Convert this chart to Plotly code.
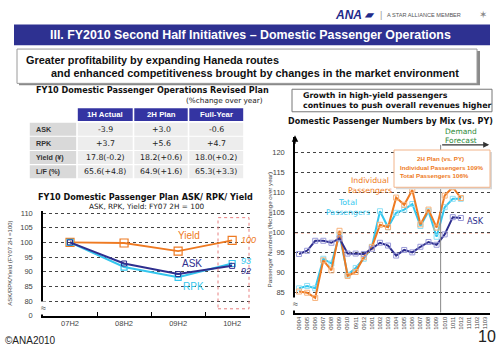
import plotly.graph_objects as go

W, H = 500, 353
def px(x): return x / W
def py(y): return 1 - y / H

SANS = "Liberation Sans, Arial, sans-serif"
VERD = "DejaVu Sans, Verdana, sans-serif"

# ---------------- data ----------------
table_rows = ["ASK", "RPK", "Yield (¥)", "L/F (%)"]
table_cols = ["1H Actual", "2H Plan", "Full-Year"]
col_1h = ["-3.9", "+3.7", "17.8(-0.2)", "65.6(+4.8)"]
col_2h = ["+3.0", "+5.6", "18.2(+0.6)", "64.9(+1.6)"]
col_fy = ["-0.6", "+4.7", "18.0(+0.2)", "65.3(+3.3)"]

halves = ["07H2", "08H2", "09H2", "10H2"]
yield_idx = [100.0, 99.8, 97.0, 100.7]
ask_idx = [100.0, 92.8, 89.2, 92.0]
rpk_idx = [100.0, 91.6, 88.1, 92.8]
left_ticks = [75, 80, 85, 90, 95, 100, 105, 110]
left_ticktext = ["0", "80", "85", "90", "95", "100", "105", "110"]

months = ["0904", "0905", "0906", "0907", "0908", "0909", "0910", "0911", "0912",
          "1001", "1002", "1003", "1004", "1005", "1006", "1007", "1008", "1009",
          "1010", "1011", "1012", "1101", "1102", "1103"]
individual = [85.3, 85.0, 83.7, 93.1, 90.6, 100.5, 89.2, 90.2, 93.9, 96.4, 102.0,
              101.4, 108.8, 107.0, 110.7, 102.1, 105.8, 101.3, 109.3, 111.4, 108.7]
total = [86.1, 86.7, 86.1, 93.5, 92.3, 99.5, 89.5, 91.2, 93.5, 96.5, 105.4,
         101.4, 105.0, 105.8, 107.2, 101.7, 105.4, 99.0, 106.4, 108.5, 108.5]
ask_mix = [94.7, 95.5, 98.0, 98.0, 97.5, 98.6, 94.8, 94.8, 94.7, 96.0, 97.5,
           96.8, 94.3, 95.7, 95.1, 96.5, 97.7, 97.0, 99.6, 103.9, 103.7]
right_ticks = [80, 85, 90, 95, 100, 105, 110, 115, 120]
right_ticktext = ["0", "85", "90", "95", "100", "105", "110", "115", "120"]

ORANGE = "#EE7A22"
NAVY = "#2E2E8E"
CYAN = "#33C6EE"
BLUEBAR = "#2E3191"
TBLUE = "#3434A2"

fig = go.Figure()

# ---------------- left chart ----------------
fig.add_trace(go.Scatter(x=halves, y=yield_idx, mode="lines+markers", xaxis="x", yaxis="y",
                         line=dict(color=ORANGE, width=1.8),
                         marker=dict(symbol="square-open", size=8, color=ORANGE, line=dict(width=1.2))))
fig.add_trace(go.Scatter(x=halves, y=rpk_idx, mode="lines+markers", xaxis="x", yaxis="y",
                         line=dict(color=CYAN, width=2),
                         marker=dict(symbol="square-open", size=6, color=CYAN, line=dict(width=1.2))))
fig.add_trace(go.Scatter(x=halves, y=ask_idx, mode="lines+markers", xaxis="x", yaxis="y",
                         line=dict(color=NAVY, width=2),
                         marker=dict(symbol="square-open", size=5, color=NAVY, line=dict(width=1))))

# ---------------- right chart ----------------
xi = list(range(len(individual)))
fig.add_trace(go.Scatter(x=xi, y=total, mode="lines+markers", xaxis="x2", yaxis="y2",
                         line=dict(color=CYAN, width=2),
                         marker=dict(symbol="square-open", size=5, color="#8FE0F5", line=dict(width=1))))
fig.add_trace(go.Scatter(x=xi, y=individual, mode="lines+markers", xaxis="x2", yaxis="y2",
                         line=dict(color=ORANGE, width=2),
                         marker=dict(symbol="square-open", size=5, color="#F7B27A", line=dict(width=1))))
fig.add_trace(go.Scatter(x=xi, y=ask_mix, mode="lines+markers", xaxis="x2", yaxis="y2",
                         line=dict(color=NAVY, width=2),
                         marker=dict(symbol="square-open", size=5, color="#9A9AD8", line=dict(width=1))))

tickfont = dict(family=SANS, size=7.5, color="#444")
fig.update_layout(
    width=W, height=H, margin=dict(l=0, r=0, t=0, b=0),
    paper_bgcolor="white", plot_bgcolor="white", showlegend=False,
    xaxis=dict(domain=[px(43), px(250)], type="category", range=[-0.5, 3.33],
               showline=True, linecolor="black", linewidth=1.5, ticks="inside", ticklen=4,
               tickcolor="black", tickson="boundaries", showgrid=False, zeroline=False,
               tickfont=tickfont, fixedrange=True),
    yaxis=dict(domain=[py(320), py(213)], range=[75, 110.8], tickvals=left_ticks,
               ticktext=left_ticktext, showline=True, linecolor="black", linewidth=1.5,
               showgrid=True, gridcolor="#444", griddash="dot", gridwidth=1, zeroline=False,
               ticks="", ticklabelstandoff=7, tickfont=tickfont),
    xaxis2=dict(domain=[px(295), px(490)], range=[-0.5, 23.6], tickvals=list(range(len(months))),
                ticktext=months, tickangle=-90, showline=True, linecolor="black", linewidth=1.5,
                showgrid=False, zeroline=False, ticks="", tickfont=dict(family=SANS, size=5.8, color="#444"),
                anchor="y2"),
    yaxis2=dict(domain=[py(317), py(138)], range=[80, 123.9], tickvals=right_ticks,
                ticktext=right_ticktext, showline=True, linecolor="black", linewidth=1.5,
                showgrid=True, gridcolor="#444", griddash="dot", gridwidth=1, zeroline=False,
                ticks="", ticklabelstandoff=7, tickfont=tickfont, anchor="x2"),
)

shapes = []
ann = []
def t(x, y, s, size, color="#000", family=SANS, xanchor="center", yanchor="middle", **kw):
    ann.append(dict(x=px(x), y=py(y), xref="paper", yref="paper", text=s, showarrow=False,
                    font=dict(family=family, size=size, color=color), xanchor=xanchor,
                    yanchor=yanchor, **kw))
def rect(x0, y0, x1, y1, fill, line=None, layer="below"):
    shapes.append(dict(type="rect", xref="paper", yref="paper", x0=px(x0), x1=px(x1),
                       y0=py(y1), y1=py(y0), fillcolor=fill,
                       line=line if line else dict(width=0), layer=layer))

# header bar
rect(14, 23, 490, 44, BLUEBAR)
# message box with shadow
rect(19, 50, 480, 85, "#8A8A8A")
rect(17, 48, 477, 83, "white", dict(color="#9A9A9A", width=1))
# right message box
rect(292, 89, 492, 112, "white", dict(color="#777", width=1))

# ---------------- table (drawn as cells) ----------------
col_edges = [29, 77, 133.5, 188.5, 244]
row_edges = [108.5, 122.5, 137, 151.5, 166, 180.5]
columns = [table_rows, col_1h, col_2h, col_fy]
for ci in range(1, 4):
    x0, x1 = col_edges[ci] + 0.8, col_edges[ci + 1] - 0.8
    rect(x0, row_edges[0], x1, row_edges[1] - 1, TBLUE)
    t((x0 + x1) / 2, (row_edges[0] + row_edges[1] - 1) / 2, "<b>%s</b>" % table_cols[ci - 1],
      7.8, "white")
for ri in range(len(table_rows)):
    y0, y1 = row_edges[ri + 1] + 0.6, row_edges[ri + 2] - 0.6
    for ci in range(4):
        x0, x1 = col_edges[ci] + 0.8, col_edges[ci + 1] - 0.8
        rect(x0, y0, x1, y1, "#D9D9D9" if ci == 0 else "#EDEDED")
        if ci == 0:
            t(x0 + 4, (y0 + y1) / 2, "<b>%s</b>" % columns[ci][ri], 7.2, "#333", xanchor="left")
        else:
            t((x0 + x1) / 2, (y0 + y1) / 2, columns[ci][ri], 7.8, "#222", family=VERD)

# left chart highlight box
shapes.append(dict(type="rect", xref="paper", yref="paper", x0=px(218), x1=px(249), y0=py(313), y1=py(220),
                   fillcolor="rgba(0,0,0,0)", line=dict(color="#E88080", width=1, dash="dot")))
# right chart 100 reference line
shapes.append(dict(type="line", xref="x2", yref="y2", x0=-0.5, x1=23.6, y0=100, y1=100,
                   line=dict(color="#E0502A", width=1, dash="dot"), layer="below"))
# forecast divider
shapes.append(dict(type="line", xref="x2", yref="y2", x0=17.5, x1=17.5, y0=80, y1=122,
                   line=dict(color="#888", width=1)))
# plan box
rect(396, 153, 492, 191, "#D8D8D8", layer="above")
rect(394, 151, 490, 189, "white", dict(color="#F2B48A", width=1), layer="above")

# header texts
t(250, 33.5, "<b>III. FY2010 Second Half Initiatives – Domestic Passenger Operations</b>", 12.4, "white")
t(333, 13, "<b><i>ANA</i></b>", 12, "#1F2A8A", xanchor="left")
t(362, 13, "<b><i>▰</i></b>", 10, "#1F2A8A", xanchor="left")
t(381, 13, "|", 9, "#999", xanchor="center")
t(385, 13, "A STAR ALLIANCE MEMBER", 5.6, "#555", xanchor="left")
t(483, 13, "✶", 10, "#888")
t(24, 59.5, "<b>Greater profitability by expanding Haneda routes</b>", 10.9, "#111", xanchor="left")
t(49, 72.5, "<b>and enhanced competitiveness brought by changes in the market environment</b>", 10.9, "#111", xanchor="left")

# table titles
t(152, 90, "<b>FY10 Domestic Passenger Operations Revised Plan</b>", 8.1, "#111", family=VERD)
t(265, 100.5, "(%change over year)", 7.3, "#222", family=VERD, xanchor="right")

# left chart titles
t(145, 199, "<b>FY10 Domestic Passenger Plan ASK/ RPK/ Yield</b>", 8.1, "#111", family=VERD)
t(147, 208.5, "ASK, RPK, Yield: FY07 2H = 100", 7.3, "#222", family=VERD)
t(10, 267, "ASK/RPK/Yield (FY07 2H =100)", 6, "#444", textangle=-90)
t(43, 312, "≈", 9, "#333", bgcolor="white")

# left chart series labels
ann.append(dict(x=2.2, y=102.2, xref="x", yref="y", text="Yield", showarrow=False,
                font=dict(family=SANS, size=10, color=ORANGE)))
ann.append(dict(x=2.25, y=92.7, xref="x", yref="y", text="ASK", showarrow=False,
                font=dict(family=SANS, size=10, color=NAVY)))
ann.append(dict(x=2.28, y=85.0, xref="x", yref="y", text="RPK", showarrow=False,
                font=dict(family=SANS, size=10, color=CYAN)))
end_vals = [(yield_idx[3], "100", ORANGE, 0), (rpk_idx[3], "93", CYAN, 3), (ask_idx[3], "92", NAVY, -5)]
for v, s, c, sh in end_vals:
    ann.append(dict(x=3, y=v, xref="x", yref="y", text="<i>%s</i>" % s, showarrow=False,
                    xanchor="left", xshift=7, yshift=sh, font=dict(family=SANS, size=9, color=c)))

# right chart texts
t(301, 95, "<b>Growth in high-yield passengers</b>", 7.9, "#111", family=VERD, xanchor="left")
t(301, 105.5, "<b>continues to push overall revenues higher</b>", 7.9, "#111", family=VERD, xanchor="left")
t(390, 122, "<b>Domestic Passenger Numbers by Mix (vs. PY)</b>", 8.0, "#111", family=VERD)
t(461, 132, "Demand", 7.5, "#2E8B3A", family=VERD)
t(461, 141, "Forecast", 7.5, "#2E8B3A", family=VERD)
t(269, 232, "Passenger Numbers (%change over year)", 6.2, "#444", textangle=-90)
t(295, 308, "≈", 9, "#333", bgcolor="white")
t(370, 187, "Individual<br>Passengers", 7.8, ORANGE, family=VERD)
t(348, 210, "Total<br>Passengers", 7.8, CYAN, family=VERD)
t(475, 223, "ASK", 8.2, NAVY, family=VERD)
t(440, 159.5, "<b>2H Plan (vs. PY)</b>", 6.2, ORANGE, family=SANS)
t(398, 168.5, "<b>Individual Passengers 109%</b>", 6.2, ORANGE, family=SANS, xanchor="left")
t(398, 176.5, "<b>Total Passengers 106%</b>", 6.2, ORANGE, family=SANS, xanchor="left")

# arrows
ann.append(dict(x=23.5, y=122, xref="x2", yref="y2", ax=17.5, ay=122, axref="x2", ayref="y2",
                text="", showarrow=True, arrowhead=2, arrowsize=1, arrowwidth=1.2, arrowcolor="#333"))
ann.append(dict(x=px(295), y=py(136), xref="paper", yref="paper", ax=0, ay=10,
                text="", showarrow=True, arrowhead=2, arrowsize=1, arrowwidth=1.3, arrowcolor="#000"))

# footer
t(3, 345, "©ANA2010", 10, "#222", xanchor="left")
t(487, 341, "10", 16, "#222")

fig.update_layout(shapes=shapes, annotations=ann)
fig.write_html("out.html")
